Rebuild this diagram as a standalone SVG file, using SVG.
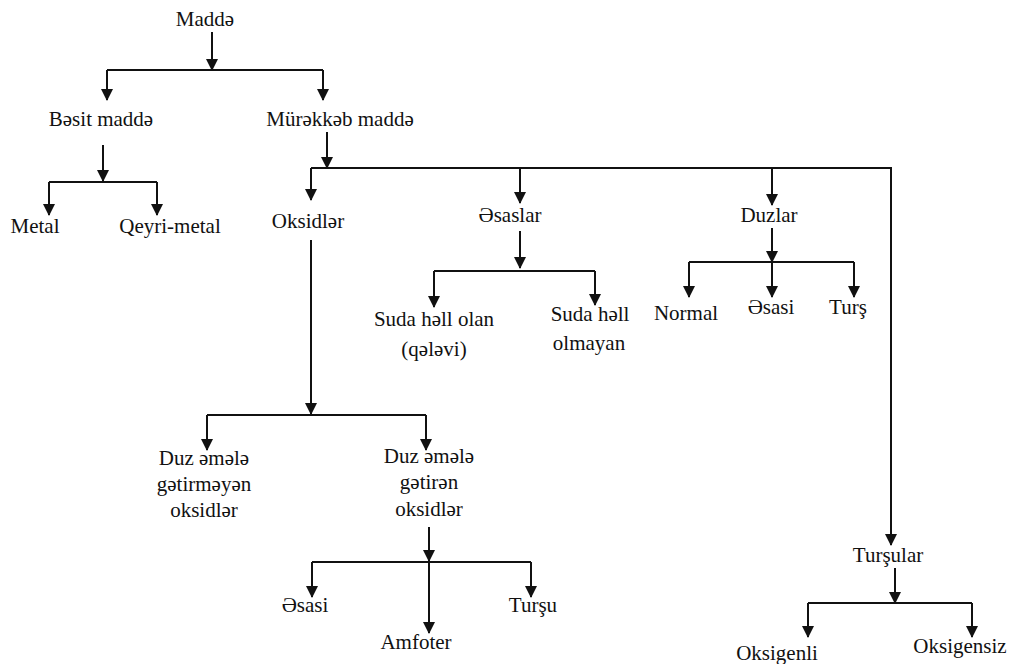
<svg xmlns="http://www.w3.org/2000/svg" width="1017" height="664" viewBox="0 0 1017 664">
<style>
text{font-family:"Liberation Serif","Times New Roman",Tinos,"DejaVu Serif",serif;font-size:21px;fill:#111;text-anchor:middle}
.c path{fill:none;stroke:#111;stroke-width:2}
</style>
<defs>
<marker id="ah" viewBox="0 0 12 12" refX="11" refY="6" markerWidth="12" markerHeight="12" markerUnits="userSpaceOnUse" orient="auto">
<path d="M0,0 L12,6 L0,12 z" fill="#111"/>
</marker>
</defs>
<rect width="1017" height="664" fill="#fff"/>
<g class="c" id="connectors">
<path d="M212,32 V70" marker-end="url(#ah)"/>
<path d="M107,70 H323"/>
<path d="M107,70 V100" marker-end="url(#ah)"/>
<path d="M323,70 V100" marker-end="url(#ah)"/>
<path d="M103,145 V181" marker-end="url(#ah)"/>
<path d="M49,182 H157"/>
<path d="M49,182 V215" marker-end="url(#ah)"/>
<path d="M157,182 V215" marker-end="url(#ah)"/>
<path d="M327,132 V168" marker-end="url(#ah)"/>
<path d="M311,168 H891 V545" marker-end="url(#ah)"/>
<path d="M311,168 V200" marker-end="url(#ah)"/>
<path d="M520,168 V203" marker-end="url(#ah)"/>
<path d="M772,168 V205" marker-end="url(#ah)"/>
<path d="M520,231 V268" marker-end="url(#ah)"/>
<path d="M434,271 H595"/>
<path d="M434,271 V307" marker-end="url(#ah)"/>
<path d="M595,271 V305" marker-end="url(#ah)"/>
<path d="M772,228 V262" marker-end="url(#ah)"/>
<path d="M689,262 H854"/>
<path d="M689,262 V297" marker-end="url(#ah)"/>
<path d="M772,262 V297" marker-end="url(#ah)"/>
<path d="M854,262 V297" marker-end="url(#ah)"/>
<path d="M311,240 V414" marker-end="url(#ah)"/>
<path d="M207,415 H426"/>
<path d="M207,415 V450" marker-end="url(#ah)"/>
<path d="M426,415 V450" marker-end="url(#ah)"/>
<path d="M429,527 V561" marker-end="url(#ah)"/>
<path d="M312,562 H531"/>
<path d="M312,562 V597" marker-end="url(#ah)"/>
<path d="M531,562 V597" marker-end="url(#ah)"/>
<path d="M429,562 V633" marker-end="url(#ah)"/>
<path d="M895,568 V603" marker-end="url(#ah)"/>
<path d="M808,603 H972"/>
<path d="M808,603 V637" marker-end="url(#ah)"/>
<path d="M972,603 V637" marker-end="url(#ah)"/>
</g>
<g font-family="'Liberation Serif', 'Times New Roman', serif">
<g id="madde"><text x="205" y="26">Maddə</text></g>
<g id="besit"><text x="101" y="126">Bəsit maddə</text></g>
<g id="murekkeb"><text x="340" y="126">Mürəkkəb maddə</text></g>
<g id="metal"><text x="35" y="233">Metal</text></g>
<g id="qeyrimetal"><text x="170" y="233">Qeyri-metal</text></g>
<g id="oksidler"><text x="308" y="228">Oksidlər</text></g>
<g id="esaslar"><text x="510" y="222">Əsaslar</text></g>
<g id="duzlar"><text x="769" y="222">Duzlar</text></g>
<g id="sudaholan"><text x="434" y="326">Suda həll olan</text><text x="434" y="356">(qələvi)</text></g>
<g id="sudaholmayan"><text x="590" y="321">Suda həll</text><text x="589" y="350">olmayan</text></g>
<g id="normal"><text x="686" y="320">Normal</text></g>
<g id="duzesasi"><text x="771" y="314">Əsasi</text></g>
<g id="turs"><text x="848" y="314">Turş</text></g>
<g id="duzgetirmeyen"><text x="204" y="465">Duz əmələ</text><text x="204" y="491">gətirməyən</text><text x="204" y="517">oksidlər</text></g>
<g id="duzgetiren"><text x="429" y="463">Duz əmələ</text><text x="429" y="489">gətirən</text><text x="429" y="516">oksidlər</text></g>
<g id="oksesasi"><text x="305" y="612">Əsasi</text></g>
<g id="tursu"><text x="533" y="612">Turşu</text></g>
<g id="amfoter"><text x="416" y="649">Amfoter</text></g>
<g id="tursular"><text x="888" y="562">Turşular</text></g>
<g id="oksigenli"><text x="777" y="660">Oksigenli</text></g>
<g id="oksigensiz"><text x="960" y="653">Oksigensiz</text></g>
</g>
</svg>
